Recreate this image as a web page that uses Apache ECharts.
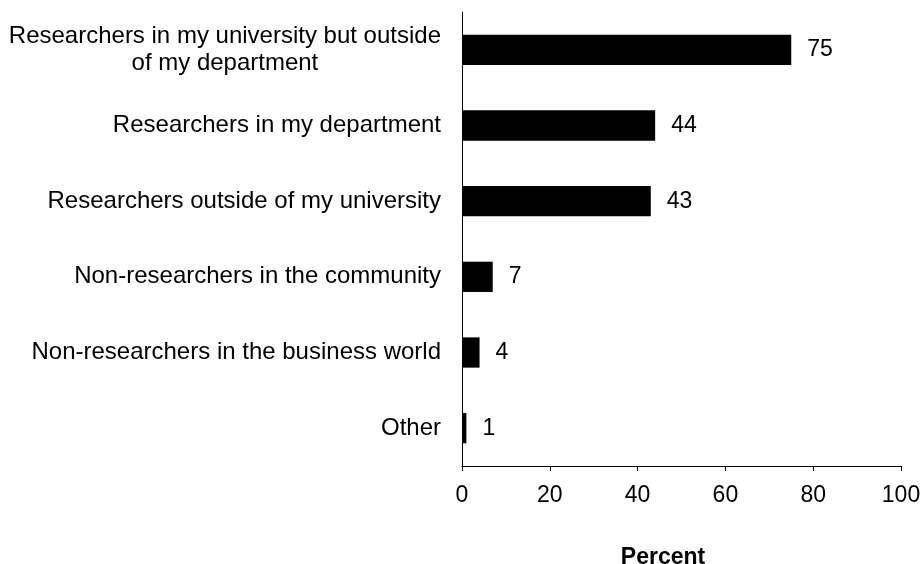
<!DOCTYPE html>
<html>
<head>
<meta charset="utf-8">
<script src="https://cdn.jsdelivr.net/npm/echarts@6/dist/echarts.min.js"></script>
<style>
html,body{margin:0;padding:0;background:#fff;}
#chart{width:923px;height:564px;}
</style>
</head>
<body>
<div id="chart"></div>
<script>
const categories = [
  'Researchers in my university but outside\nof my department',
  'Researchers in my department',
  'Researchers outside of my university',
  'Non-researchers in the community',
  'Non-researchers in the business world',
  'Other'
];
const percentValues = [75, 44, 43, 7, 4, 1];
const xTicks = [0, 20, 40, 60, 80, 100];
const axisTitle = 'Percent';

const FONT = '"Liberation Sans", Arial, sans-serif';
const chart = echarts.init(document.getElementById('chart'), null, {renderer: 'canvas'});
chart.setOption({
  animation: false,
  backgroundColor: '#ffffff',
  grid: {left: 462, right: 22, top: 12, bottom: 98, containLabel: false, outerBoundsMode: 'none'},
  xAxis: {
    type: 'value',
    min: xTicks[0],
    max: xTicks[xTicks.length - 1],
    interval: xTicks[1] - xTicks[0],
    name: axisTitle,
    nameLocation: 'middle',
    nameGap: 80,
    nameTextStyle: {fontFamily: FONT, fontSize: 23, fontWeight: 'bold', color: '#000', padding: [0, 37, 0, 0]},
    axisLine: {show: true, lineStyle: {color: '#000', width: 1}},
    axisTick: {show: true, length: 5, lineStyle: {color: '#000', width: 1}},
    axisLabel: {fontFamily: FONT, fontSize: 23, color: '#000', margin: 18},
    splitLine: {show: false}
  },
  yAxis: {
    type: 'category',
    data: categories,
    inverse: true,
    axisLine: {show: true, lineStyle: {color: '#000', width: 1}},
    axisTick: {show: false},
    axisLabel: {
      fontFamily: FONT, fontSize: 24, color: '#000', margin: 21,
      lineHeight: 27,
      formatter: function (v) {
        return v.split('\n').map(function (s) { return '{c|' + s + '}'; }).join('\n');
      },
      rich: {c: {align: 'center', fontFamily: FONT, fontSize: 24, color: '#000', lineHeight: 27}}
    }
  },
  series: [{
    type: 'bar',
    data: percentValues,
    barWidth: '40%',
    itemStyle: {color: '#000'},
    label: {show: true, position: 'right', distance: 16, fontFamily: FONT, fontSize: 23, color: '#000'}
  }]
});
</script>
</body>
</html>
